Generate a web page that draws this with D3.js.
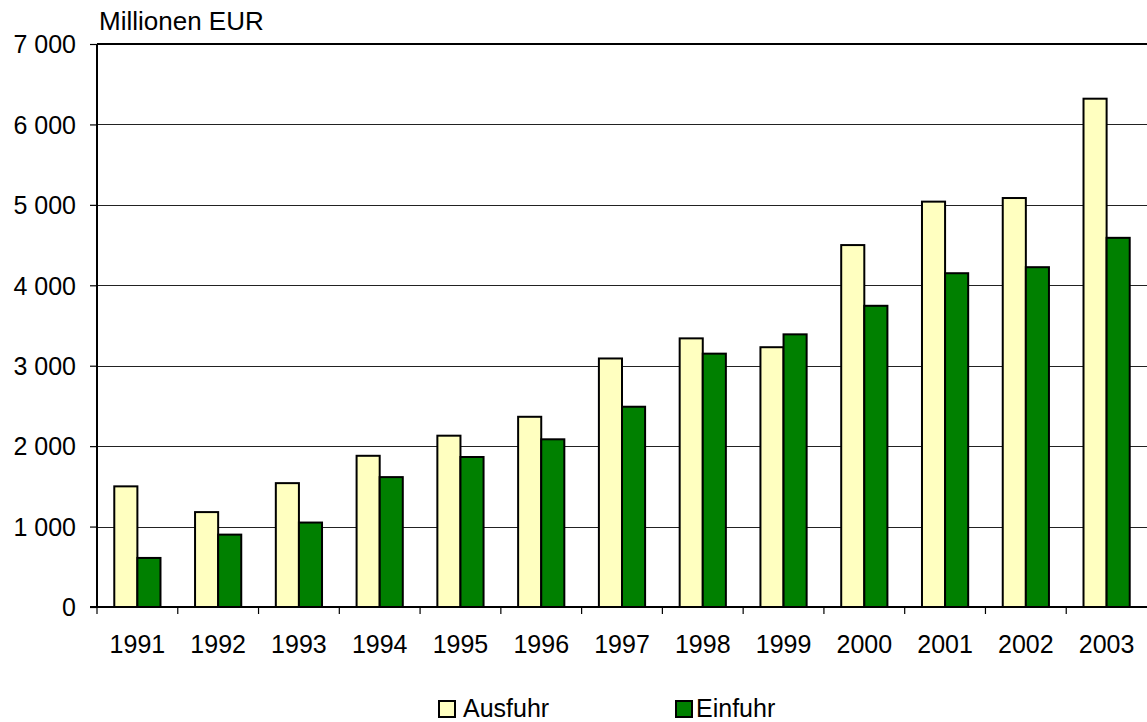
<!DOCTYPE html>
<html>
<head>
<meta charset="utf-8">
<script src="https://cdn.jsdelivr.net/npm/d3@7"></script>
<style>
  html, body { margin: 0; padding: 0; background: #fff; }
  svg { display: block; }
  text { font-family: "Liberation Sans", Arial, sans-serif; fill: #000; }
</style>
</head>
<body>
<svg id="chart" width="1147" height="722"></svg>
<script>
const years = ["1991","1992","1993","1994","1995","1996","1997","1998","1999","2000","2001","2002","2003"];
const ausfuhr = [1500, 1180, 1540, 1880, 2130, 2365, 3090, 3340, 3230, 4500, 5040, 5085, 6320];
const einfuhr = [610, 900, 1050, 1615, 1865, 2085, 2490, 3150, 3390, 3745, 4150, 4225, 4590];
const seriesNames = ["Ausfuhr", "Einfuhr"];
const seriesColors = ["#FFFFC0", "#008000"];
const yTicks = [0, 1000, 2000, 3000, 4000, 5000, 6000, 7000];
const unitLabel = "Millionen EUR";

(function () {
const svg = d3.select("#chart");
const pL = 97, pR = 1147, pT = 44, pB = 607;
const FS = 25;
const FONT = "Liberation Sans, Arial, sans-serif";

const x = d3.scaleBand().domain(years).range([pL, pR]).padding(0);
const bw = x.bandwidth();
const x1 = d3.scaleBand().domain(seriesNames).range([bw * 0.214, bw * 0.786]).padding(0);
const y = d3.scaleLinear().domain([0, 7000]).range([pB, pT]);
const fmt = v => d3.format(",")(v).replace(/,/g, " ");

// gridlines
svg.append("g").selectAll("line").data(yTicks.filter(t => t > 0 && t < 7000)).join("line")
  .attr("x1", pL).attr("x2", pR)
  .attr("y1", d => Math.round(y(d)) + 0.5).attr("y2", d => Math.round(y(d)) + 0.5)
  .attr("stroke", "#222").attr("stroke-width", 1);

// bars
const data = years.map((yr, i) => ({ year: yr, vals: [ausfuhr[i], einfuhr[i]] }));
const groups = svg.append("g").selectAll("g").data(data).join("g")
  .attr("transform", d => `translate(${x(d.year)},0)`);
groups.selectAll("rect").data(d => d.vals.map((v, j) => ({ v, j }))).join("rect")
  .attr("x", d => x1(seriesNames[d.j]))
  .attr("width", x1.bandwidth())
  .attr("y", d => y(d.v))
  .attr("height", d => y(0) - y(d.v))
  .attr("fill", d => seriesColors[d.j])
  .attr("stroke", "#000").attr("stroke-width", 2);

// top border
svg.append("line").attr("x1", pL).attr("x2", pR).attr("y1", pT).attr("y2", pT)
  .attr("stroke", "#000").attr("stroke-width", 2);

// y axis
const yAxis = d3.axisLeft(y).tickValues(yTicks).tickFormat(fmt).tickSize(7).tickPadding(14);
const gy = svg.append("g").attr("transform", `translate(${pL},0)`).call(yAxis);
gy.select(".domain").attr("stroke", "#000").attr("stroke-width", 2).attr("d", `M0,${pT}V${pB}`);
gy.selectAll(".tick line").attr("stroke", "#000").attr("stroke-width", 1.2);
gy.selectAll(".tick text").attr("font-size", FS).attr("font-family", FONT)
  .attr("fill", "#000").attr("dy", "0.35em");

// x axis
const xAxis = d3.axisBottom(x).tickSize(0).tickPadding(28);
const gx = svg.append("g").attr("transform", `translate(0,${pB})`).call(xAxis);
gx.select(".domain").attr("stroke", "#000").attr("stroke-width", 2).attr("d", `M${pL - 7},0H${pR}`);
gx.selectAll(".tick text").attr("font-size", FS).attr("font-family", FONT)
  .attr("fill", "#000").attr("dy", "0.71em");
// category separator ticks
gx.append("g").selectAll("line").data(years).join("line")
  .attr("x1", d => x(d)).attr("x2", d => x(d)).attr("y1", 0).attr("y2", 7)
  .attr("stroke", "#000").attr("stroke-width", 1.2);

// unit label
svg.append("text").attr("x", 99).attr("y", 30).attr("font-size", 26).text(unitLabel);

// legend
const legendX = [438, 675];
const legendTextX = [463, 696];
const lg = svg.append("g").selectAll("g").data(seriesNames).join("g");
lg.append("rect").attr("x", (d, i) => legendX[i] + 1).attr("y", 701).attr("width", 16).attr("height", 16)
  .attr("fill", (d, i) => seriesColors[i]).attr("stroke", "#000").attr("stroke-width", 2);
lg.append("text").attr("x", (d, i) => legendTextX[i]).attr("y", 717).attr("font-size", FS).text(d => d);
})();
</script>
</body>
</html>
